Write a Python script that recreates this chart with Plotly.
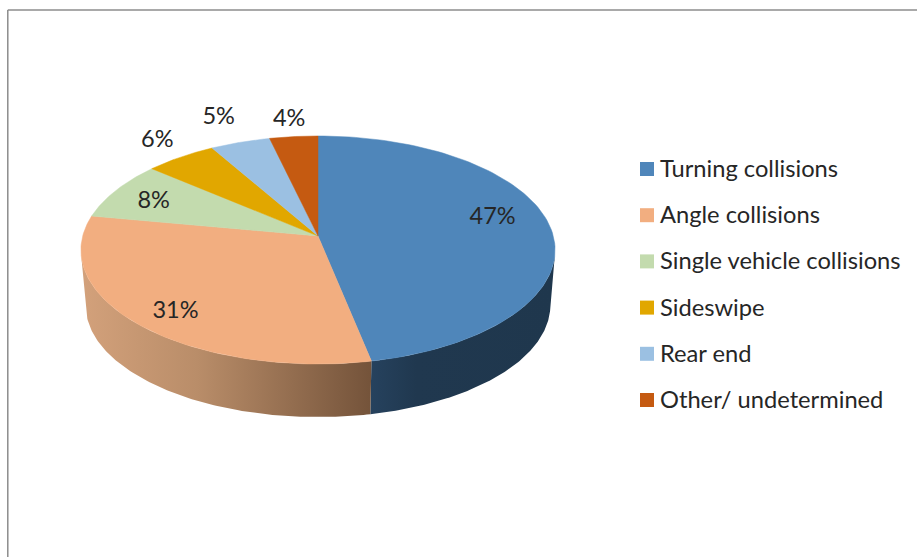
import numpy as np
import plotly.graph_objects as go

categories = ["Turning collisions", "Angle collisions", "Single vehicle collisions",
              "Sideswipe", "Rear end", "Other/ undetermined"]
values = [46.8, 31.1, 8.3, 5.5, 4.6, 3.7]
colors = ["#4F86BA", "#F2AE80", "#C3DBAE", "#E1A700", "#9BC0E2", "#C55A11"]
wall_scales = {0: [(0, "#26425E"), (0.25, "#20384F"), (1, "#1F374D")],
               1: [(0, "#D3A17B"), (0.4, "#B98D69"), (1, "#74533A")]}

# label placement, relative to the pie: radius factor and angle offset (degrees)
label_r = [0.78, 0.83, 0.80, 1.23, 1.32, 1.21]
label_da = [-7.7, -2.0, -0.7, 1.4, 0.0, 0.0]

FONT = "Lato, 'Open Sans', sans-serif"
TEXT = "#262626"
TEXT_DROP = 2.0

# perspective projection of the unit disc on to the page
CX, CY, C, B, K = 318.0, 236.0, 235.3, 112.3, 0.1228
BASE_Y, BASE_SCALE = 291.6, 0.98
LEGEND_X, LEGEND_TEXT_X, LEGEND_Y, LEGEND_STEP = 647.0, 660.0, 169.0, 46.2


def project(theta_deg, r=1.0, base=False):
    t = np.radians(theta_deg)
    u, v = r * np.sin(t), r * np.cos(t)
    w = 1 + K * v
    x, d = C * u / w, B * v / w
    if base:
        return CX + BASE_SCALE * x, BASE_Y - BASE_SCALE * d
    return CX + x, CY - d


total = sum(values)
edges = np.concatenate([[0.0], np.cumsum(values) / total * 360.0])

fig = go.Figure()

# side wall of the visible slices
wall_from = {0: 100.0, 1: edges[1]}
wall_to = {0: edges[1], 1: 260.0}
for i, scale in wall_scales.items():
    th = np.linspace(wall_from[i], wall_to[i], 120)
    xt, yt = project(th)
    xb, yb = project(th, base=True)
    fig.add_trace(go.Scatter(
        x=np.concatenate([xt, xb[::-1]]), y=np.concatenate([yt, yb[::-1]]),
        mode="lines", line=dict(width=0), fill="toself",
        fillgradient=dict(type="horizontal", colorscale=scale),
        showlegend=False, hoverinfo="skip"))

# top face
for i, (cat, col) in enumerate(zip(categories, colors)):
    th = np.linspace(edges[i], edges[i + 1], 100)
    xs, ys = project(th)
    fig.add_trace(go.Scatter(
        x=np.concatenate([[CX], xs, [CX]]), y=np.concatenate([[CY], ys, [CY]]),
        mode="lines", line=dict(width=0.5, color=col), fill="toself", fillcolor=col,
        showlegend=False, name=cat, hoverinfo="name"))

# percentage labels
mids = (edges[:-1] + edges[1:]) / 2
lx, ly = [], []
for m, r, da in zip(mids, label_r, label_da):
    px, py = project(m + da, r)
    lx.append(float(px))
    ly.append(float(py) + TEXT_DROP)
fig.add_trace(go.Scatter(
    x=lx, y=ly, mode="text", text=[f"{v / total * 100:.0f}%" for v in values],
    textposition="middle center", textfont=dict(family=FONT, size=23.5, color=TEXT),
    showlegend=False, hoverinfo="skip"))

# legend: squares and their names
rows = np.arange(len(categories))
fig.add_trace(go.Scatter(
    x=np.full(len(categories), LEGEND_X), y=LEGEND_Y + LEGEND_STEP * rows,
    mode="markers", marker=dict(symbol="square", size=14, color=colors, line=dict(width=0)),
    text=categories, showlegend=False, hoverinfo="text"))
fig.add_trace(go.Scatter(
    x=np.full(len(categories), LEGEND_TEXT_X), y=LEGEND_Y + TEXT_DROP + LEGEND_STEP * rows,
    mode="text", text=categories, textposition="middle right",
    textfont=dict(family=FONT, size=23.7, color=TEXT),
    showlegend=False, hoverinfo="skip"))

fig.update_layout(
    width=917, height=557, margin=dict(l=0, r=0, t=0, b=0),
    paper_bgcolor="white", plot_bgcolor="white", showlegend=False,
    xaxis=dict(range=[0, 917], visible=False, fixedrange=True),
    yaxis=dict(range=[557, 0], visible=False, fixedrange=True),
    shapes=[
        dict(type="line", xref="paper", yref="paper", x0=0.0085, x1=1, y0=0.982, y1=0.982,
             line=dict(color="#8C8C8C", width=1.5)),
        dict(type="line", xref="paper", yref="paper", x0=0.0085, x1=0.0085, y0=0, y1=0.982,
             line=dict(color="#8C8C8C", width=1.5)),
    ],
)
fig.write_html("out.html", config={"displayModeBar": False},
               post_script="document.body.style.margin='0';document.body.style.overflow='hidden';")
